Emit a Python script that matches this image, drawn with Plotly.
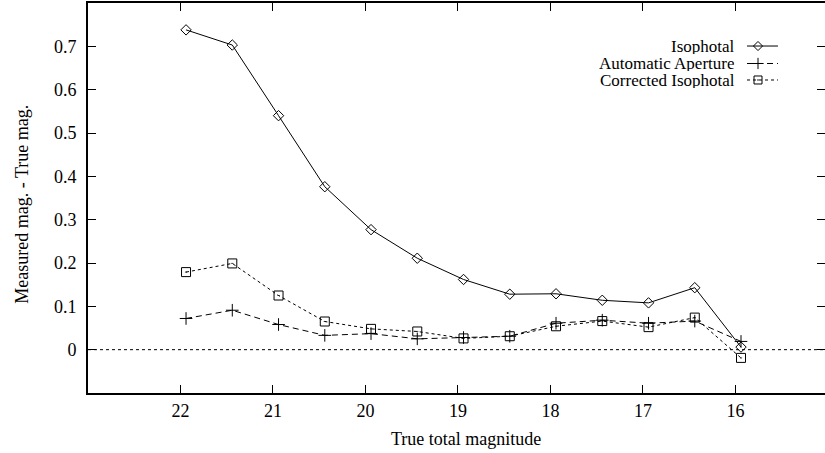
import plotly.graph_objects as go

# ---- data ----
true_mag = [21.94, 21.44, 20.94, 20.44, 19.94, 19.44, 18.94, 18.44, 17.94, 17.44, 16.94, 16.44, 15.94]
isophotal = [0.738, 0.703, 0.540, 0.376, 0.277, 0.211, 0.162, 0.128, 0.129, 0.114, 0.108, 0.143, 0.006]
auto_aperture = [0.072, 0.091, 0.058, 0.033, 0.037, 0.025, 0.028, 0.031, 0.061, 0.068, 0.061, 0.066, 0.019]
corrected_iso = [0.179, 0.199, 0.125, 0.065, 0.048, 0.042, 0.026, 0.031, 0.054, 0.066, 0.052, 0.074, -0.019]
series_names = ["Isophotal", "Automatic Aperture", "Corrected Isophotal"]
x_ticks = [22, 21, 20, 19, 18, 17, 16]
y_ticks = [0, 0.1, 0.2, 0.3, 0.4, 0.5, 0.6, 0.7]
y_tick_text = ["0", "0.1", "0.2", "0.3", "0.4", "0.5", "0.6", "0.7"]

FONT = "Liberation Serif, Times New Roman, serif"
styles = [
    dict(dash="solid", symbol="diamond-open", size=8),
    dict(dash="6px,4px", symbol="cross-thin-open", size=9),
    dict(dash="3px,3px", symbol="square-open-dot", size=9),
]
series = [isophotal, auto_aperture, corrected_iso]

fig = go.Figure()
for name, vals, st in zip(series_names, series, styles):
    fig.add_trace(go.Scatter(
        x=true_mag, y=vals, name=name, mode="lines+markers",
        line=dict(color="black", width=1, dash=st["dash"]),
        marker=dict(symbol=st["symbol"], size=st["size"], color="black",
                    line=dict(color="black", width=1)),
        showlegend=False, xaxis="x", yaxis="y"))

# custom gnuplot-style legend (text right, sample on right)
leg_rows = [0.8897, 0.8449, 0.8026]
for name, st, ry in zip(series_names, styles, leg_rows):
    fig.add_trace(go.Scatter(
        x=[0.8942, 0.9362], y=[ry, ry], mode="lines",
        line=dict(color="black", width=1, dash=st["dash"]),
        showlegend=False, hoverinfo="skip", xaxis="x3", yaxis="y3"))
    fig.add_trace(go.Scatter(
        x=[0.9091], y=[ry], mode="markers",
        marker=dict(symbol=st["symbol"], size=st["size"] - 1, color="black",
                    line=dict(color="black", width=1)),
        showlegend=False, hoverinfo="skip", xaxis="x3", yaxis="y3"))
    fig.add_annotation(x=0.8806, y=ry, xref="paper", yref="paper",
                       text=name, showarrow=False, xanchor="right", yanchor="middle",
                       height=16, valign="middle",
                       font=dict(family=FONT, size=17, color="black"))

# dummy trace for right-side ticks
fig.add_trace(go.Scatter(x=[true_mag[0]], y=[isophotal[0]], mode="markers",
                         marker=dict(opacity=0), showlegend=False, hoverinfo="skip",
                         xaxis="x", yaxis="y2"))

fig.add_shape(type="line", xref="paper", x0=0, x1=1, yref="y", y0=0, y1=0,
              line=dict(color="black", width=1, dash="dot"))

fig.add_annotation(x=0.5129, y=-0.118, xref="paper", yref="paper",
                   text="True total magnitude", showarrow=False,
                   xanchor="center", yanchor="middle",
                   font=dict(family=FONT, size=18, color="black"))
fig.add_annotation(x=-0.09, y=0.4846, xref="paper", yref="paper",
                   text="Measured mag. - True mag.", showarrow=False, textangle=-90,
                   xanchor="center", yanchor="middle",
                   font=dict(family=FONT, size=18, color="black"))

fig.update_layout(
    width=825, height=453,
    margin=dict(l=88, r=0, t=3, b=60, pad=0, autoexpand=False),
    paper_bgcolor="white", plot_bgcolor="white",
    font=dict(family=FONT, size=18, color="black"),
    xaxis=dict(range=[23, 15.032], tickvals=x_ticks, ticks="inside", ticklen=8,
               tickwidth=1, tickcolor="black", showline=True, linewidth=2,
               linecolor="black", mirror="ticks", showgrid=False, zeroline=False,
               automargin=False, tickfont=dict(family=FONT, size=18)),
    yaxis=dict(range=[-0.1, 0.8], tickvals=y_ticks, ticktext=y_tick_text,
               ticks="inside", ticklen=8, tickwidth=1, tickcolor="black",
               showline=True, linewidth=2, linecolor="black", mirror=False,
               automargin=False, ticklabelstandoff=6,
               showgrid=False, zeroline=False, tickfont=dict(family=FONT, size=18)),
    yaxis2=dict(range=[-0.1, 0.8], tickvals=y_ticks, overlaying="y", side="right",
                anchor="x", ticks="inside", ticklen=8, tickwidth=1, tickcolor="black",
                automargin=False,
                showline=False, showgrid=False, zeroline=False, showticklabels=False),
    xaxis3=dict(range=[0, 1], domain=[0, 1], overlaying="x", visible=False, fixedrange=True),
    yaxis3=dict(range=[0, 1], domain=[0, 1], overlaying="y", visible=False, fixedrange=True,
                anchor="x3"),
)

fig.write_html("out.html", config={"displayModeBar": False},
               post_script="document.body.style.margin='0';document.body.style.overflow='hidden';")
